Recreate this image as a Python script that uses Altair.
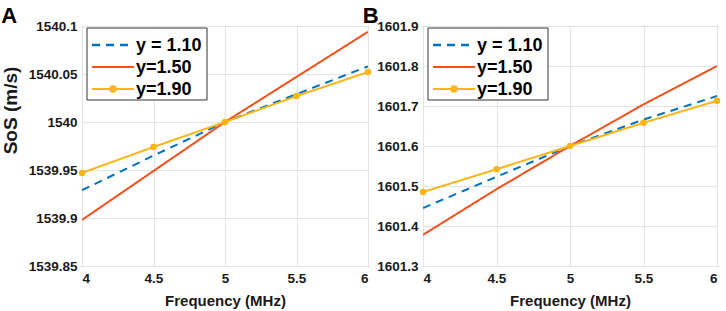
import altair as alt
import pandas as pd

freqs = [4, 4.5, 5, 5.5, 6]
series_names = ["y = 1.10", "y=1.50", "y=1.90"]
colors = ["#0072BD", "#F5501C", "#FDB515"]
dashes = [[8, 6], [1, 0], [1, 0]]

# Panel A values (SoS, m/s)
a_y110 = [1539.929, 1539.965, 1540.000, 1540.029, 1540.058]
a_y150 = [1539.898, 1539.949, 1540.000, 1540.047, 1540.094]
a_y190 = [1539.947, 1539.974, 1540.000, 1540.027, 1540.052]
a_ticks = [1539.85, 1539.9, 1539.95, 1540.0, 1540.05, 1540.1]

# Panel B values (SoS, m/s)
b_y110 = [1601.445, 1601.523, 1601.600, 1601.666, 1601.725]
b_y150 = [1601.378, 1601.492, 1601.600, 1601.704, 1601.800]
b_y190 = [1601.485, 1601.542, 1601.600, 1601.658, 1601.713]
b_ticks = [1601.3, 1601.4, 1601.5, 1601.6, 1601.7, 1601.8, 1601.9]

x_ticks = [4, 4.5, 5, 5.5, 6]
FONT = "Liberation Sans"


def long_df(vals):
    rows = []
    for name, ys in zip(series_names, vals):
        for f, v in zip(freqs, ys):
            rows.append({"freq": f, "sos": v, "series": name})
    return pd.DataFrame(rows)


def panel(vals, ticks, yfmt, letter, width, ytitle, title_dx):
    df = long_df(vals)
    x = alt.X("freq:Q", scale=alt.Scale(domain=[4, 6], nice=False, zero=False),
              axis=alt.Axis(values=x_ticks, format=".1~f", title="Frequency (MHz)",
                            titleFontSize=15, titlePadding=9, labelPadding=5))
    yaxis_kwargs = dict(values=ticks, format=yfmt, labelPadding=5)
    if ytitle:
        yaxis_kwargs.update(title=ytitle, titleFontSize=19, titlePadding=8,
                            titleY=84, titleAlign="center")
    else:
        yaxis_kwargs.update(title=None)
    y = alt.Y("sos:Q", scale=alt.Scale(domain=[ticks[0], ticks[-1]], nice=False, zero=False),
              axis=alt.Axis(**yaxis_kwargs))
    color = alt.Color("series:N", scale=alt.Scale(domain=series_names, range=colors), legend=None)
    dash = alt.StrokeDash("series:N", scale=alt.Scale(domain=series_names, range=dashes), legend=None)

    lines = alt.Chart(df).mark_line(strokeWidth=2, clip=True).encode(
        x=x, y=y, color=color, strokeDash=dash)
    pts = alt.Chart(df).transform_filter(alt.datum.series == "y=1.90").mark_circle(
        size=42, opacity=1, color=colors[2]).encode(x=x, y=y)

    layers = [lines, pts]
    # legend box
    one = pd.DataFrame({"k": [0]})
    layers.append(alt.Chart(one).mark_rect(fill="white", stroke="#333333", strokeWidth=1).encode(
        x=alt.value(5), x2=alt.value(125), y=alt.value(2), y2=alt.value(74)))
    ys = [19, 41, 63]
    for i, name in enumerate(series_names):
        ldf = pd.DataFrame({"label": [name]})
        layers.append(alt.Chart(ldf).mark_rule(
            color=colors[i], strokeWidth=2.5 if i == 0 else 2, strokeDash=dashes[i]).encode(
            x=alt.value(10), x2=alt.value(52), y=alt.value(ys[i])))
        layers.append(alt.Chart(ldf).mark_text(
            align="left", baseline="middle", fontSize=18, fontWeight="bold",
            font=FONT, color="black").encode(
            x=alt.value(54), y=alt.value(ys[i] + 1), text="label:N"))
    layers.append(alt.Chart(one).mark_circle(size=55, opacity=1, color=colors[2]).encode(
        x=alt.value(31), y=alt.value(ys[2])))

    return alt.layer(*layers).properties(
        width=width, height=240,
        title=alt.TitleParams(letter, anchor="start", frame="bounds", fontSize=22,
                              fontWeight="bold", font=FONT, color="black",
                              offset=-9, dx=title_dx))


chartA = panel([a_y110, a_y150, a_y190], a_ticks, ".2~f", "A", 286, "SoS (m/s)", 0)
chartB = panel([b_y110, b_y150, b_y190], b_ticks, ".1~f", "B", 294, None, -14)

chart = alt.hconcat(chartA, chartB, spacing=-10).properties(
    padding={"left": 0, "top": 4, "right": 0, "bottom": 0}
).configure(font=FONT).configure_view(
    stroke="#4d4d4d", strokeWidth=1
).configure_axis(
    labelFont=FONT, labelFontWeight="bold", labelFontSize=13.5, labelColor="#1a1a1a",
    titleFont=FONT, titleFontWeight="bold", titleColor="#1a1a1a",
    gridColor="#e4e4e4", gridWidth=1, domain=False, ticks=False
)

chart.save("out.html", embed_options={"renderer": "svg", "actions": False})
